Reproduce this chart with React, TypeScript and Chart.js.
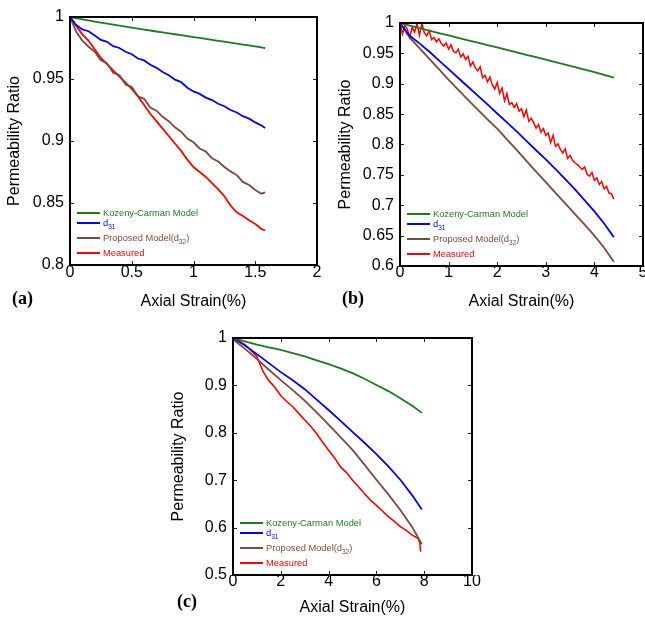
import React, { useEffect, useRef } from 'react';
import { Chart, registerables } from 'chart.js';
Chart.register(...registerables);

// ---------- Data ----------
const legendMain = ['Kozeny-Carman Model', 'd', 'Proposed Model(d', 'Measured'];
const legendSub = ['', '31', '32', ''];
const legendTail = ['', '', ')', ''];
const seriesColors = ['#1e7a1e', '#0000ff', '#7a4a3c', '#ff0000'];

// Panel (a)
const xA = [0, 0.05, 0.1, 0.15, 0.2, 0.25, 0.3, 0.35, 0.4, 0.45, 0.5, 0.55, 0.6, 0.65, 0.7, 0.75, 0.8, 0.85, 0.9, 0.95, 1.0, 1.05, 1.1, 1.15, 1.2, 1.25, 1.3, 1.35, 1.4, 1.45, 1.5, 1.55, 1.58];
const kozenyA = [1.0, 0.999, 0.9981, 0.9972, 0.9963, 0.9954, 0.9946, 0.9938, 0.993, 0.9922, 0.9914, 0.9906, 0.9898, 0.9891, 0.9883, 0.9876, 0.9868, 0.9861, 0.9853, 0.9846, 0.9838, 0.9831, 0.9823, 0.9816, 0.9808, 0.9801, 0.9793, 0.9786, 0.9778, 0.9771, 0.9763, 0.9755, 0.9748];
const d31A = [1.0, 0.9935, 0.99, 0.9885, 0.985, 0.9815, 0.98, 0.9765, 0.975, 0.972, 0.97, 0.9665, 0.965, 0.9615, 0.959, 0.9556, 0.953, 0.9495, 0.9475, 0.943, 0.94, 0.938, 0.935, 0.933, 0.93, 0.928, 0.925, 0.923, 0.92, 0.918, 0.915, 0.9125, 0.9105];
const proposedA = [1.0, 0.988, 0.981, 0.976, 0.972, 0.965, 0.9625, 0.955, 0.953, 0.9455, 0.9435, 0.936, 0.934, 0.927, 0.9245, 0.9195, 0.916, 0.911, 0.9075, 0.902, 0.899, 0.894, 0.8915, 0.886, 0.8835, 0.879, 0.8755, 0.8725, 0.867, 0.8645, 0.8605, 0.8575, 0.8585];
const measuredA = [1.0, 0.993, 0.986, 0.981, 0.974, 0.967, 0.962, 0.957, 0.952, 0.947, 0.942, 0.936, 0.929, 0.922, 0.916, 0.91, 0.904, 0.898, 0.892, 0.885, 0.879, 0.875, 0.871, 0.866, 0.861, 0.8555, 0.848, 0.8425, 0.8395, 0.836, 0.833, 0.829, 0.828];

// Panel (b)
const xB = [0, 0.2, 0.4, 0.6, 0.8, 1.0, 1.2, 1.4, 1.6, 1.8, 2.0, 2.2, 2.4, 2.6, 2.8, 3.0, 3.2, 3.4, 3.6, 3.8, 4.0, 4.2, 4.4];
const kozenyB = [1.0, 0.9958, 0.9917, 0.9876, 0.9835, 0.9795, 0.9755, 0.9715, 0.9675, 0.9636, 0.9597, 0.9557, 0.9517, 0.9477, 0.9437, 0.9397, 0.9356, 0.9315, 0.9274, 0.9232, 0.919, 0.9147, 0.91];
const d31B = [1.0, 0.979, 0.9665, 0.953, 0.9385, 0.924, 0.9095, 0.895, 0.8805, 0.866, 0.851, 0.8365, 0.8215, 0.806, 0.7905, 0.7755, 0.7595, 0.743, 0.726, 0.708, 0.69, 0.67, 0.6475];
const proposedB = [1.0, 0.976, 0.9585, 0.9415, 0.924, 0.9065, 0.89, 0.8735, 0.8575, 0.8415, 0.826, 0.8085, 0.791, 0.773, 0.7555, 0.738, 0.7205, 0.703, 0.6855, 0.668, 0.65, 0.63, 0.607];
const xBm = [0, 0.05, 0.1, 0.15, 0.2, 0.25, 0.3, 0.35, 0.4, 0.45, 0.5, 0.55, 0.6, 0.65, 0.7, 0.75, 0.8, 0.85, 0.9, 0.95, 1.0, 1.05, 1.1, 1.15, 1.2, 1.25, 1.3, 1.35, 1.4, 1.45, 1.5, 1.55, 1.6, 1.65, 1.7, 1.75, 1.8, 1.85, 1.9, 1.95, 2.0, 2.05, 2.1, 2.15, 2.2, 2.25, 2.3, 2.35, 2.4, 2.45, 2.5, 2.55, 2.6, 2.65, 2.7, 2.75, 2.8, 2.85, 2.9, 2.95, 3.0, 3.05, 3.1, 3.15, 3.2, 3.25, 3.3, 3.35, 3.4, 3.45, 3.5, 3.55, 3.6, 3.65, 3.7, 3.75, 3.8, 3.85, 3.9, 3.95, 4.0, 4.05, 4.1, 4.15, 4.2, 4.25, 4.3, 4.35, 4.4];
const measuredB = [
  1.0, 0.982, 0.996, 0.99, 0.976, 0.993, 0.985, 0.999, 0.98, 1.0,
  0.984, 0.979, 0.987, 0.973, 0.976, 0.969, 0.974, 0.966, 0.962, 0.967,
  0.957, 0.964, 0.953, 0.951, 0.957, 0.944, 0.949, 0.94, 0.945, 0.929,
  0.936, 0.926, 0.921, 0.928, 0.91, 0.914, 0.903, 0.911, 0.898, 0.891,
  0.902, 0.884, 0.893, 0.872, 0.884, 0.866, 0.869, 0.861, 0.867, 0.855,
  0.859, 0.846, 0.857, 0.838, 0.843, 0.836, 0.827, 0.833, 0.82, 0.826,
  0.815, 0.819, 0.803, 0.815, 0.797, 0.801, 0.792, 0.786, 0.793, 0.777,
  0.782, 0.774, 0.77, 0.767, 0.763, 0.759, 0.763, 0.751, 0.748, 0.754,
  0.741, 0.745, 0.734, 0.739, 0.727, 0.731, 0.72, 0.719, 0.71,
];

// Panel (c)
const xC = [0, 0.5, 1, 1.5, 2, 2.5, 3, 3.5, 4, 4.5, 5, 5.5, 6, 6.5, 7, 7.5, 7.9];
const kozenyC = [1.0, 0.993, 0.986, 0.98, 0.975, 0.968, 0.961, 0.953, 0.945, 0.936, 0.926, 0.914, 0.901, 0.888, 0.873, 0.857, 0.842];
const d31C = [1.0, 0.984, 0.966, 0.947, 0.928, 0.911, 0.892, 0.87, 0.848, 0.825, 0.802, 0.779, 0.755, 0.729, 0.701, 0.668, 0.638];
const proposedC = [0.997, 0.977, 0.956, 0.933, 0.911, 0.89, 0.868, 0.843, 0.817, 0.791, 0.764, 0.733, 0.701, 0.67, 0.637, 0.601, 0.565];
const xCm = [0, 0.25, 0.5, 0.75, 1, 1.25, 1.5, 1.75, 2, 2.25, 2.5, 2.75, 3, 3.25, 3.5, 3.75, 4, 4.25, 4.5, 4.75, 5, 5.25, 5.5, 5.75, 6, 6.25, 6.5, 6.75, 7, 7.25, 7.5, 7.75, 7.82, 7.85];
const measuredC = [1.0, 0.994, 0.986, 0.974, 0.961, 0.93, 0.91, 0.896, 0.878, 0.866, 0.855, 0.841, 0.827, 0.814, 0.798, 0.78, 0.763, 0.747, 0.728, 0.716, 0.7, 0.686, 0.672, 0.658, 0.647, 0.635, 0.623, 0.613, 0.602, 0.594, 0.584, 0.577, 0.567, 0.549];

const xTitle = 'Axial Strain(%)';
const yTitle = 'Permeability Ratio';
const panelLabels = ['(a)', '(b)', '(c)'];

const FONT = "'Liberation Sans', Arial, sans-serif";
const fmt = (v: any) => String(parseFloat(Number(v).toFixed(3)));

// ---------- plugin: frame, inward ticks, legend ----------
const framePlugin = {
  id: 'frameLegend',
  afterDatasetsDraw(chart: any) {
    const { ctx, chartArea } = chart;
    const { left, top, right, bottom } = chartArea;
    const sx = chart.scales.x;
    const sy = chart.scales.y;
    ctx.save();
    ctx.strokeStyle = '#222';
    ctx.lineWidth = 1;
    const tl = 4;
    ctx.beginPath();
    sx.ticks.forEach((t: any) => {
      const p = Math.round(sx.getPixelForValue(t.value)) + 0.5;
      ctx.moveTo(p, bottom); ctx.lineTo(p, bottom - tl);
      ctx.moveTo(p, top); ctx.lineTo(p, top + tl);
    });
    sy.ticks.forEach((t: any) => {
      const p = Math.round(sy.getPixelForValue(t.value)) + 0.5;
      ctx.moveTo(left, p); ctx.lineTo(left + tl, p);
      ctx.moveTo(right, p); ctx.lineTo(right - tl, p);
    });
    ctx.stroke();
    ctx.strokeStyle = '#000';
    ctx.lineWidth = 2;
    ctx.strokeRect(left, top, right - left, bottom - top);

    // legend
    const rowOffsets = [52, 42, 27, 12];
    const mainFont = `9.3px ${FONT}`;
    const subFont = `6.5px ${FONT}`;
    for (let i = 0; i < 4; i++) {
      const y = bottom - rowOffsets[i];
      ctx.strokeStyle = seriesColors[i];
      ctx.lineWidth = 2;
      ctx.beginPath();
      ctx.moveTo(left + 7, y);
      ctx.lineTo(left + 30, y);
      ctx.stroke();
      ctx.fillStyle = seriesColors[i];
      ctx.textBaseline = 'middle';
      ctx.textAlign = 'left';
      let x = left + 33;
      ctx.font = mainFont;
      ctx.fillText(legendMain[i], x, y);
      x += ctx.measureText(legendMain[i]).width;
      if (legendSub[i]) {
        ctx.font = subFont;
        ctx.fillText(legendSub[i], x, y + 4);
        x += ctx.measureText(legendSub[i]).width;
      }
      if (legendTail[i]) {
        ctx.font = mainFont;
        ctx.fillText(legendTail[i], x, y);
      }
    }
    ctx.restore();
  },
};

type Geom = {
  left: number; top: number; width: number; height: number;
  padTop: number; padRight: number; yWidth: number; xHeight: number;
  yTitlePad: number; xTitlePad: number; xTickPad: number;
};
type Series = { x: number[]; y: number[]; color: string; width: number };

function Panel(props: {
  geom: Geom; series: Series[];
  xMin: number; xMax: number; xStep: number;
  yMin: number; yMax: number; yStep: number;
}) {
  const ref = useRef<HTMLCanvasElement>(null);
  const { geom, series, xMin, xMax, xStep, yMin, yMax, yStep } = props;
  useEffect(() => {
    const chart = new Chart(ref.current as HTMLCanvasElement, {
      type: 'scatter',
      data: {
        datasets: series.map((s) => ({
          data: s.x.map((x, j) => ({ x, y: s.y[j] })),
          borderColor: s.color,
          backgroundColor: s.color,
          borderWidth: s.width,
          showLine: true,
          pointRadius: 0,
          pointHoverRadius: 0,
          fill: false,
          tension: 0,
        })),
      },
      options: {
        animation: false,
        responsive: false,
        maintainAspectRatio: false,
        events: [],
        layout: { padding: { top: geom.padTop, right: geom.padRight, left: 0, bottom: 0 } },
        plugins: { legend: { display: false }, tooltip: { enabled: false } },
        scales: {
          x: {
            type: 'linear',
            min: xMin, max: xMax,
            grid: { display: false, drawTicks: false },
            border: { display: false },
            ticks: {
              stepSize: xStep, padding: geom.xTickPad, color: '#000',
              font: { size: 16, family: FONT, lineHeight: 1 },
              callback: fmt, maxRotation: 0, autoSkip: false,
            },
            title: {
              display: true, text: xTitle, color: '#000',
              font: { size: 16, family: FONT, lineHeight: 1 },
              padding: { top: 0, bottom: geom.xTitlePad },
            },
            afterFit: (s: any) => { s.height = geom.xHeight; },
          },
          y: {
            type: 'linear',
            min: yMin, max: yMax,
            grid: { display: false, drawTicks: false },
            border: { display: false },
            ticks: {
              stepSize: yStep, padding: 6, color: '#000',
              font: { size: 16, family: FONT, lineHeight: 1 },
              callback: fmt, autoSkip: false,
            },
            title: {
              display: true, text: yTitle, color: '#000',
              font: { size: 16, family: FONT, lineHeight: 1 },
              padding: { top: geom.yTitlePad, bottom: 0 },
            },
            afterFit: (s: any) => { s.width = geom.yWidth; },
          },
        },
      } as any,
      plugins: [framePlugin as any],
    });
    return () => chart.destroy();
  }, []);
  return (
    <canvas
      ref={ref}
      width={geom.width}
      height={geom.height}
      style={{ position: 'absolute', left: geom.left, top: geom.top, width: geom.width, height: geom.height }}
    />
  );
}

const labelStyle = (left: number, top: number): React.CSSProperties => ({
  position: 'absolute', left, top,
  fontFamily: "'Liberation Serif', 'Times New Roman', serif",
  fontWeight: 'bold', fontSize: 18, lineHeight: '18px', color: '#000',
});

export default function App() {
  const mk = (xs: number[][], ys: number[][], widths: number[]): Series[] =>
    ys.map((y, i) => ({ x: xs[i], y, color: seriesColors[i], width: widths[i] }));

  const seriesA = mk([xA, xA, xA, xA], [kozenyA, d31A, proposedA, measuredA], [1.8, 1.8, 1.8, 1.8]);
  const seriesB = mk([xB, xB, xB, xBm], [kozenyB, d31B, proposedB, measuredB], [1.8, 1.8, 1.8, 1.5]);
  const seriesC = mk([xC, xC, xC, xCm], [kozenyC, d31C, proposedC, measuredC], [1.8, 1.8, 1.8, 1.6]);

  return (
    <div style={{ position: 'absolute', left: 0, top: 0, width: 645, height: 618, overflow: 'hidden', background: '#fff' }}>
      <Panel
        geom={{ left: 0, top: 0, width: 325, height: 310, padTop: 17, padRight: 8, yWidth: 70, xHeight: 45, yTitlePad: 7, xTitlePad: 0, xTickPad: 0 }}
        series={seriesA}
        xMin={0} xMax={2} xStep={0.5} yMin={0.8} yMax={1} yStep={0.05}
      />
      <Panel
        geom={{ left: 320, top: 0, width: 330, height: 310, padTop: 23, padRight: 7, yWidth: 80, xHeight: 44, yTitlePad: 18, xTitlePad: 0, xTickPad: -1 }}
        series={seriesB}
        xMin={0} xMax={5} xStep={1} yMin={0.6} yMax={1} yStep={0.05}
      />
      <Panel
        geom={{ left: 160, top: 300, width: 330, height: 318, padTop: 38, padRight: 18, yWidth: 73, xHeight: 43, yTitlePad: 11, xTitlePad: 2, xTickPad: -1 }}
        series={seriesC}
        xMin={0} xMax={10} xStep={2} yMin={0.5} yMax={1} yStep={0.1}
      />
      <div style={labelStyle(12, 289)}>{panelLabels[0]}</div>
      <div style={labelStyle(342, 289)}>{panelLabels[1]}</div>
      <div style={labelStyle(177, 592)}>{panelLabels[2]}</div>
    </div>
  );
}
